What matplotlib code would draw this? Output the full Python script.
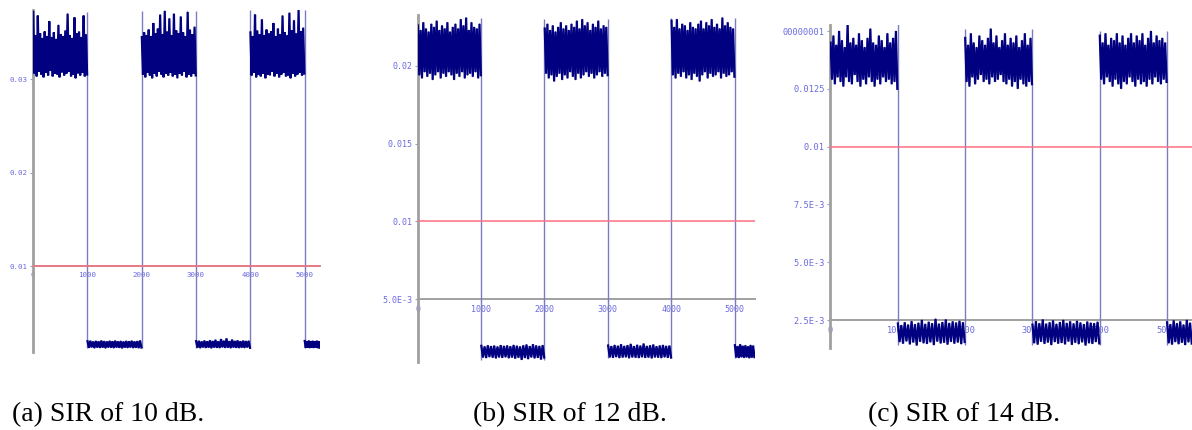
"""Three noisy on/off power traces (SIR 10 / 12 / 14 dB) with a 0.01 threshold line."""

import matplotlib

matplotlib.use("Agg")
import matplotlib.pyplot as plt  # noqa: E402
import numpy as np  # noqa: E402

NAVY = "#000080"
STEP = "#7b7bc4"
RED = "#ff6f80"
TICK = "#6a6ae0"
AXIS = "#a0a0a0"

# sample index boundaries of the on/off segments (same for all panels)
EDGES = [0, 1000, 2000, 3000, 4000, 5000]
X_TICKS = [0, 1000, 2000, 3000, 4000, 5000]
X_TICK_LABELS = ["0", "1000", "2000", "3000", "4000", "5000"]
THRESHOLD = 0.01

# --- panel (a): SIR 10 dB, envelope values in units of 1e-3 -------------
A_H1_UP = [37.2, 34.7, 36.8, 34.9, 34.4, 35.1, 34.6, 36.2, 34.5, 35.0, 34.3, 35.8,
           34.8, 34.6, 35.2, 37.0, 34.7, 34.4, 36.6, 34.9, 35.1, 34.5, 36.8, 34.8]
A_H1_LO = [30.6, 30.3, 30.8, 30.5, 30.2, 30.7, 30.4, 30.9, 30.3, 30.6, 30.5, 30.2,
           30.7, 30.4, 30.6, 30.8, 30.3, 30.5, 30.1, 30.6, 30.4, 30.7, 30.3, 30.5]
A_L1_UP = [1.95, 2.00, 1.92, 1.98, 1.94, 2.02, 1.96, 1.93, 1.99, 1.95,
           2.01, 1.94, 1.97, 1.92, 1.98, 1.95, 2.00, 1.93, 1.96, 2.03]
A_L1_LO = [1.25, 1.30, 1.22, 1.28, 1.24, 1.27, 1.21, 1.29, 1.26, 1.23,
           1.28, 1.25, 1.20, 1.27, 1.24, 1.29, 1.23, 1.26, 1.22, 1.28]
A_H2_UP = [34.5, 35.0, 34.7, 35.3, 34.6, 36.0, 34.9, 35.4, 36.9, 34.8, 37.3, 35.1,
           36.5, 34.7, 37.0, 35.2, 34.9, 36.7, 35.0, 34.6, 37.2, 35.3, 34.8, 35.6]
A_H2_LO = [30.5, 30.2, 30.7, 30.4, 30.1, 30.6, 30.3, 30.8, 30.5, 30.2, 30.6, 30.4,
           30.7, 30.3, 30.5, 30.1, 30.6, 30.4, 30.8, 30.2, 30.5, 30.3, 30.6, 30.4]
A_L2_UP = [1.96, 1.99, 1.93, 2.02, 1.95, 2.05, 1.97, 2.10, 1.94, 2.18,
           2.00, 2.25, 1.96, 2.12, 1.98, 2.04, 1.95, 2.01, 1.97, 1.99]
A_L2_LO = [1.26, 1.22, 1.29, 1.24, 1.27, 1.21, 1.28, 1.25, 1.23, 1.30,
           1.24, 1.26, 1.22, 1.28, 1.25, 1.23, 1.27, 1.24, 1.29, 1.25]
A_H3_UP = [35.0, 34.6, 36.9, 35.2, 34.8, 36.4, 34.7, 35.3, 34.9, 35.1, 36.0, 34.6,
           35.4, 34.8, 36.8, 35.0, 34.7, 37.1, 35.2, 36.3, 34.9, 37.4, 35.1, 35.5]
A_H3_LO = [30.4, 30.7, 30.2, 30.5, 30.3, 30.6, 30.1, 30.5, 30.4, 30.8, 30.3, 30.6,
           30.2, 30.5, 30.7, 30.3, 30.4, 30.1, 30.6, 30.3, 30.5, 30.7, 30.4, 30.6]
A_L3_UP = [1.98, 1.94, 2.01, 1.96, 1.99, 1.93, 2.00, 1.95]
A_L3_LO = [1.25, 1.28, 1.23, 1.27, 1.24, 1.29, 1.22, 1.26]

# --- panel (b): SIR 12 dB ------------------------------------------------
B_H1_UP = [22.6, 22.3, 22.8, 22.4, 22.2, 22.7, 22.5, 22.9, 22.3, 22.6, 22.4, 22.8,
           22.2, 22.5, 22.7, 22.4, 23.0, 22.6, 23.1, 22.3, 22.8, 22.5, 22.4, 22.7]
B_H1_LO = [19.4, 19.2, 19.6, 19.3, 19.5, 19.1, 19.4, 19.6, 19.2, 19.5, 19.3, 19.6,
           19.4, 19.1, 19.5, 19.3, 19.6, 19.2, 19.4, 19.5, 19.3, 19.6, 19.2, 19.4]
B_L1_UP = [2.00, 1.96, 2.03, 1.98, 2.01, 1.95, 2.04, 1.99, 2.02, 1.97,
           2.05, 2.00, 1.96, 2.03, 2.08, 1.98, 2.10, 2.02, 1.99, 2.04]
B_L1_LO = [1.25, 1.22, 1.28, 1.24, 1.20, 1.26, 1.23, 1.27, 1.21, 1.25,
           1.18, 1.24, 1.10, 1.22, 1.15, 1.26, 1.20, 1.23, 1.12, 1.25]
B_H2_UP = [22.4, 22.7, 22.3, 22.6, 22.2, 22.5, 22.8, 22.4, 22.6, 22.3, 22.7, 22.5,
           22.9, 22.4, 23.0, 22.6, 22.8, 22.3, 22.7, 22.5, 22.9, 22.4, 22.6, 22.5]
B_H2_LO = [19.5, 19.2, 19.4, 19.0, 19.3, 19.5, 19.1, 19.4, 19.2, 19.6, 19.3, 19.1,
           19.5, 19.2, 19.4, 19.6, 19.3, 19.5, 19.2, 19.4, 19.6, 19.3, 19.5, 19.4]
B_L2_UP = [2.02, 1.98, 2.05, 2.00, 2.10, 1.99, 2.04, 2.12, 1.98, 2.06,
           2.01, 2.14, 1.99, 2.03, 2.08, 1.97, 2.02, 2.05, 1.99, 2.01]
B_L2_LO = [1.26, 1.23, 1.28, 1.22, 1.25, 1.27, 1.21, 1.26, 1.24, 1.22,
           1.27, 1.23, 1.25, 1.20, 1.26, 1.24, 1.22, 1.27, 1.23, 1.25]
B_H3_UP = [22.9, 22.5, 23.0, 22.4, 22.7, 22.6, 22.3, 22.8, 22.5, 22.4, 22.7, 22.9,
           22.4, 22.8, 22.6, 23.0, 22.5, 22.7, 22.4, 23.1, 22.6, 22.8, 22.5, 22.4]
B_H3_LO = [19.4, 19.2, 19.5, 19.3, 19.6, 19.2, 19.4, 19.1, 19.5, 19.3, 19.0, 19.4,
           19.6, 19.2, 19.5, 19.3, 19.4, 19.6, 19.2, 19.5, 19.3, 19.4, 19.6, 19.3]
B_L3_UP = [2.04, 1.98, 2.10, 2.00, 2.03, 1.97, 2.05, 2.01]
B_L3_LO = [1.25, 1.22, 1.27, 1.23, 1.26, 1.21, 1.24, 1.27]

# --- panel (c): SIR 14 dB ------------------------------------------------
C_H1_UP = [14.5, 14.8, 14.4, 15.0, 14.6, 14.3, 15.3, 14.5, 14.7, 14.4, 14.9, 14.6,
           14.3, 14.7, 15.1, 14.5, 14.4, 14.8, 14.6, 14.3, 14.9, 14.5, 14.7, 15.0]
C_H1_LO = [12.9, 12.7, 13.0, 12.8, 12.6, 13.0, 12.8, 12.7, 13.1, 12.8, 12.6, 12.9,
           12.7, 13.0, 12.8, 12.6, 12.9, 12.7, 13.0, 12.8, 12.9, 12.7, 12.8, 12.5]
C_L1_UP = [2.35, 2.28, 2.40, 2.30, 2.45, 2.32, 2.38, 2.50, 2.33, 2.42,
           2.36, 2.55, 2.34, 2.41, 2.52, 2.37, 2.44, 2.39, 2.46, 2.40]
C_L1_LO = [1.55, 1.48, 1.58, 1.45, 1.53, 1.40, 1.56, 1.50, 1.47, 1.54,
           1.42, 1.57, 1.49, 1.52, 1.44, 1.56, 1.48, 1.53, 1.46, 1.55]
C_H2_UP = [14.7, 14.4, 14.9, 14.5, 14.3, 14.8, 14.6, 14.4, 14.7, 15.1, 14.5, 14.8,
           14.3, 14.6, 14.9, 14.4, 14.7, 14.5, 14.8, 14.3, 14.6, 14.9, 14.4, 14.7]
C_H2_LO = [12.8, 12.6, 13.0, 12.7, 12.9, 13.1, 12.8, 12.9, 12.7, 13.0, 12.8, 12.9,
           13.1, 12.8, 12.7, 12.9, 12.6, 12.8, 12.5, 12.9, 12.7, 12.6, 12.8, 12.7]
C_L2_UP = [2.30, 2.45, 2.36, 2.52, 2.34, 2.40, 2.48, 2.33, 2.41, 2.50,
           2.37, 2.44, 2.35, 2.46, 2.39, 2.32, 2.43, 2.38, 2.36, 2.42]
C_L2_LO = [1.50, 1.44, 1.56, 1.47, 1.53, 1.42, 1.55, 1.48, 1.51, 1.45,
           1.57, 1.43, 1.52, 1.46, 1.54, 1.40, 1.50, 1.47, 1.55, 1.49]
C_H3_UP = [14.8, 14.5, 14.9, 14.4, 14.7, 14.6, 14.9, 14.5, 14.8, 14.4, 14.7, 14.9,
           14.5, 14.8, 14.6, 14.9, 14.4, 14.7, 15.0, 14.5, 14.8, 14.6, 14.7, 14.5]
C_H3_LO = [12.9, 12.7, 13.0, 12.8, 12.6, 12.9, 12.7, 12.5, 12.8, 12.7, 13.0, 12.8,
           12.6, 12.9, 12.7, 12.8, 12.6, 12.9, 12.7, 13.0, 12.8, 12.7, 12.9, 12.8]
C_L3_UP = [2.40, 2.32, 2.48, 2.36, 2.44, 2.30, 2.50, 2.38]
C_L3_LO = [1.50, 1.44, 1.55, 1.46, 1.52, 1.42, 1.54, 1.48]

A_Y_TICKS = [0.01, 0.02, 0.03]
A_Y_LABELS = ["0.01", "0.02", "0.03"]
B_Y_TICKS = [0.005, 0.01, 0.015, 0.02]
B_Y_LABELS = ["5.0E-3", "0.01", "0.015", "0.02"]
C_Y_TICKS = [0.0025, 0.005, 0.0075, 0.01, 0.0125, 0.015]
C_Y_LABELS = ["2.5E-3", "5.0E-3", "7.5E-3", "0.01", "0.0125", "00000001"]

CAPTIONS = ["(a) SIR of 10 dB.", "(b) SIR of 12 dB.", "(c) SIR of 14 dB."]

PANELS = [
    dict(segs=[(A_H1_UP, A_H1_LO), (A_L1_UP, A_L1_LO), (A_H2_UP, A_H2_LO),
               (A_L2_UP, A_L2_LO), (A_H3_UP, A_H3_LO), (A_L3_UP, A_L3_LO)],
         yticks=A_Y_TICKS, ylabels=A_Y_LABELS, xaxis_at=0.01,
         rect=[33 / 1192, 78 / 430, 287 / 1192, 342 / 430],
         xlim=(0, 5285), ylim=(0.0008, 0.0374), fs=5.4, cap_x=12),
    dict(segs=[(B_H1_UP, B_H1_LO), (B_L1_UP, B_L1_LO), (B_H2_UP, B_H2_LO),
               (B_L2_UP, B_L2_LO), (B_H3_UP, B_H3_LO), (B_L3_UP, B_L3_LO)],
         yticks=B_Y_TICKS, ylabels=B_Y_LABELS, xaxis_at=0.005,
         rect=[417.7 / 1192, 68 / 430, 337 / 1192, 347 / 430],
         xlim=(0, 5316), ylim=(0.00096, 0.02327), fs=6.0, cap_x=473),
    dict(segs=[(C_H1_UP, C_H1_LO), (C_L1_UP, C_L1_LO), (C_H2_UP, C_H2_LO),
               (C_L2_UP, C_L2_LO), (C_H3_UP, C_H3_LO), (C_L3_UP, C_L3_LO)],
         yticks=C_Y_TICKS, ylabels=C_Y_LABELS, xaxis_at=0.0025,
         rect=[830.3 / 1192, 82 / 430, 361.7 / 1192, 323 / 430],
         xlim=(0, 5374), ylim=(0.00129, 0.01526), fs=6.2, cap_x=868),
]

plt.rcParams["axes.axisbelow"] = True

fig = plt.figure(figsize=(11.92, 4.30), dpi=100)

for p, caption in zip(PANELS, CAPTIONS):
    ax = fig.add_axes(p["rect"])
    ax.set_xlim(*p["xlim"])
    ax.set_ylim(*p["ylim"])
    bounds = EDGES[1:] + [p["xlim"][1]]
    levels = []
    for x0, x1, (up, lo) in zip(EDGES, bounds, p["segs"]):
        up = np.asarray(up) * 1e-3
        lo = np.asarray(lo) * 1e-3
        xs = np.linspace(x0 + 4, x1 - 4, 2 * len(up))
        ys = np.empty(2 * len(up))
        ys[0::2] = up
        ys[1::2] = lo
        # thin pass shows the spikes, thick pass fills the dense core
        ax.plot(xs, ys, color=NAVY, lw=0.7, alpha=0.75, zorder=3)
        ax.plot(xs, ys, color=NAVY, lw=1.6, zorder=3.1,
                solid_joinstyle="miter")
        levels.append((up.max(), lo.min()))
    # the on/off edges
    for i, x in enumerate(EDGES[1:]):
        hi = levels[i if i % 2 == 0 else i + 1][0]
        lo = levels[i + 1 if i % 2 == 0 else i][1]
        ax.vlines(x, lo, hi, color=STEP, lw=1.0, zorder=2.8)
    ax.axhline(THRESHOLD, color=RED, lw=1.1, zorder=2.9)

    for s in ("top", "right"):
        ax.spines[s].set_visible(False)
    ax.spines["left"].set_color(AXIS)
    ax.spines["left"].set_linewidth(2.0)
    ax.spines["bottom"].set_color(AXIS)
    ax.spines["bottom"].set_linewidth(1.4)
    ax.spines["bottom"].set_position(("data", p["xaxis_at"]))

    ax.set_xticks(X_TICKS, X_TICK_LABELS)
    ax.set_yticks(p["yticks"], p["ylabels"])
    ax.tick_params(length=2.5, width=0.8, color="#9a9ad0", pad=1.5,
                   labelsize=p["fs"], labelcolor=TICK)
    for lab in ax.get_xticklabels() + ax.get_yticklabels():
        lab.set_family("DejaVu Sans Mono")

    fig.text(p["cap_x"] / 1192, 1 - 421 / 430, caption, fontsize=20,
             family="Liberation Serif", va="baseline", ha="left")

fig.savefig("out.png", dpi=100)
